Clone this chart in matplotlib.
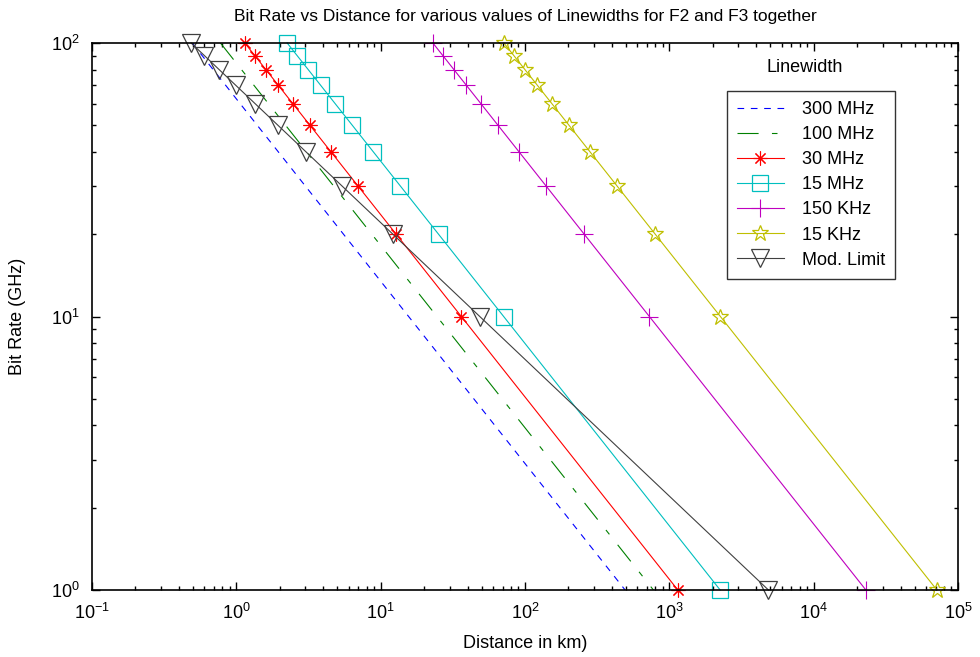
import matplotlib
matplotlib.use('Agg')
import matplotlib.pyplot as plt
from matplotlib.ticker import FixedLocator, NullFormatter

plt.rcParams['font.family'] = ['Liberation Sans', 'DejaVu Sans']
plt.rcParams['mathtext.fontset'] = 'custom'
plt.rcParams['mathtext.rm'] = 'Liberation Sans'
plt.rcParams['mathtext.it'] = 'Liberation Sans'

# bit rates (GHz) for every curve
bit_rate = [100, 90, 80, 70, 60, 50, 40, 30, 20, 10, 1]

# distances (km) for each linewidth
dist_300MHz = [0.494, 0.579, 0.690, 0.844, 1.063, 1.397, 1.953, 3.006, 5.523, 15.62, 494]
dist_100MHz = [0.776, 0.909, 1.084, 1.325, 1.670, 2.195, 3.067, 4.723, 8.676, 24.54, 776]
dist_30MHz = [1.145, 1.341, 1.600, 1.955, 2.464, 3.238, 4.526, 6.968, 12.80, 36.21, 1145]
dist_15MHz = [2.25, 2.635, 3.144, 3.842, 4.841, 6.364, 8.894, 13.69, 25.16, 71.15, 2250]
dist_150KHz = [23.0, 26.94, 32.14, 39.27, 49.49, 65.05, 90.91, 140.0, 257.1, 727.3, 23000]
dist_15KHz = [71.4, 83.62, 99.78, 121.9, 153.6, 201.9, 282.2, 434.5, 798.3, 2258, 71400]
dist_modlimit = [0.486, 0.600, 0.759, 0.992, 1.35, 1.944, 3.0375, 5.4, 12.15, 48.6, 4860]

x_ticks = [1e-1, 1e0, 1e1, 1e2, 1e3, 1e4, 1e5]
y_ticks = [1e0, 1e1, 1e2]

fig = plt.figure(figsize=(9.8, 6.57), dpi=100)
ax = fig.add_axes([92/980, 1 - 590/657, 866/980, 547/657])

lw = 0.8
ax.loglog(dist_300MHz, bit_rate, color='#0000ff', lw=lw, linestyle=(0, (6, 6)), label='300 MHz')
ax.loglog(dist_100MHz, bit_rate, color='#008000', lw=lw, linestyle=(0, (19, 12, 5, 12)), label='100 MHz')
ax.loglog(dist_30MHz, bit_rate, color='#ff0000', lw=lw, marker=(8, 2, 0), ms=10, mew=0.8,
          label='30 MHz', clip_on=False)
ax.loglog(dist_15MHz, bit_rate, color='#00bfbf', lw=lw, marker='s', ms=11, mfc='none', mew=0.9,
          label='15 MHz', clip_on=False)
ax.loglog(dist_150KHz, bit_rate, color='#bf00bf', lw=lw, marker='+', ms=13, mew=0.8,
          label='150 KHz', clip_on=False)
ax.loglog(dist_15KHz, bit_rate, color='#bfbf00', lw=lw, marker='*', ms=12, mfc='none', mew=0.9,
          label='15 KHz', clip_on=False)
ax.loglog(dist_modlimit, bit_rate, color='#404040', lw=lw, marker='v', ms=13, mfc='none', mew=0.9,
          label='Mod. Limit', clip_on=False)

ax.set_xlim(1e-1, 1e5)
ax.set_ylim(1, 100)
ax.xaxis.set_major_locator(FixedLocator(x_ticks))
ax.yaxis.set_major_locator(FixedLocator(y_ticks))
ax.xaxis.set_minor_formatter(NullFormatter())
ax.yaxis.set_minor_formatter(NullFormatter())
ax.tick_params(which='both', direction='in', top=True, right=True, labelsize=13, width=1)
ax.tick_params(which='major', length=6, pad=9)
ax.tick_params(which='minor', length=3)
for sp in ax.spines.values():
    sp.set_linewidth(1.2)
    sp.set_zorder(5)

ax.set_title('Bit Rate vs Distance for various values of Linewidths for F2 and F3 together',
             fontsize=12.5, pad=16)
ax.set_xlabel('Distance in km)', fontsize=13, labelpad=9)
ax.set_ylabel('Bit Rate (GHz)', fontsize=13, labelpad=18)

leg = ax.legend(loc='upper left', bbox_to_anchor=((727 - 92) / 866, (590 - 91) / 547),
                fontsize=13, frameon=True, fancybox=False, edgecolor='black',
                handlelength=2.6, borderpad=0.55, labelspacing=0.45, handletextpad=1.0,
                borderaxespad=0)
leg.get_frame().set_linewidth(1.0)
fig.text(805 / 980, 1 - 67 / 657, 'Linewidth', fontsize=13, ha='center', va='center')

fig.savefig('out.png', dpi=100)
